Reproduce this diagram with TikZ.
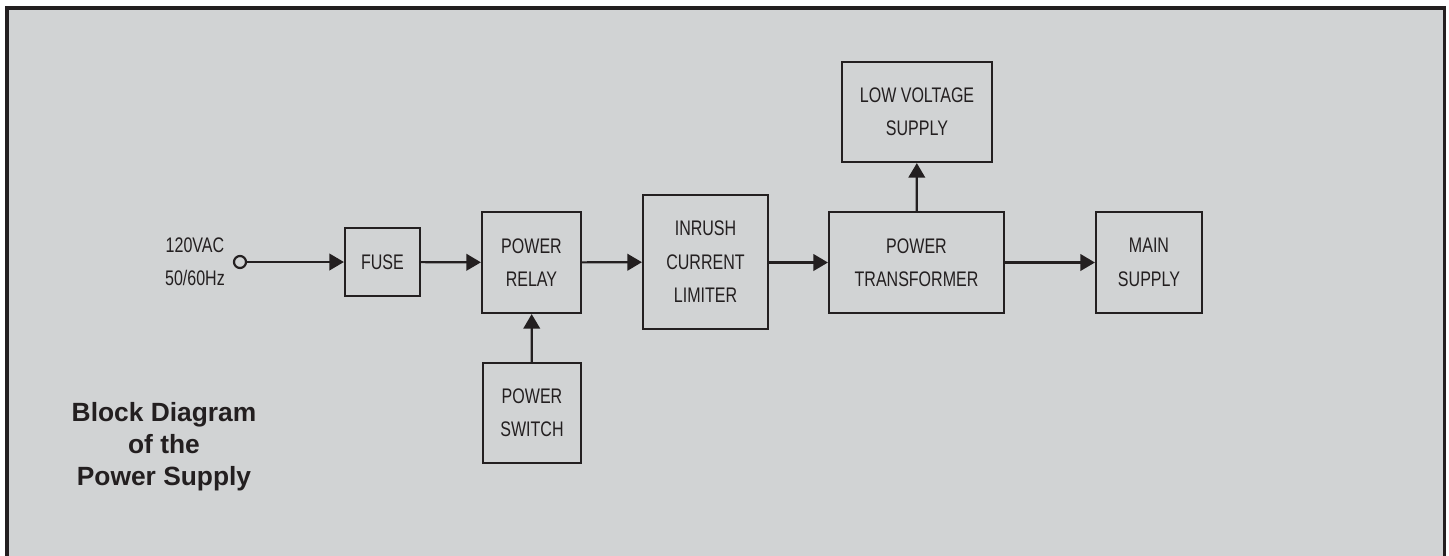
\documentclass[tikz,border=0pt]{standalone}
\usepackage{fontspec}
\setmainfont{Liberation Sans}
\newfontfamily\blockfont{Liberation Sans}[FakeStretch=0.76]
\usepackage{tikz}
\usetikzlibrary{arrows.meta,positioning}
\definecolor{panelgray}{RGB}{209,211,212}
\definecolor{inkdark}{RGB}{35,31,32}

\begin{document}
\begin{tikzpicture}[x=0.02cm, y=-0.02cm,
    box/.style={draw=inkdark, line width=1.25pt, align=center, inner sep=0pt,
      font=\blockfont\fontsize{12}{19}\selectfont, text=inkdark},
    flow/.style={draw=inkdark, line width=1.25pt, -{Triangle[length=2.9mm,width=3.3mm]}}]
        \useasboundingbox (0,0) rectangle (1449,555);
        \fill[white] (0,0) rectangle (1449,555);
        \draw[inkdark, line width=2pt, fill=panelgray] (7,8) rectangle (1444.5,575);
        % blocks
        \node[box, minimum width=1.5cm, minimum height=1.36cm] (fuse) at (382.5,262) {FUSE};
        \node[box, minimum width=1.98cm, minimum height=2.02cm] (relay) at (531.5,262.5) {POWER\\RELAY};
        \node[box, minimum width=1.96cm, minimum height=2cm] (switch) at (532,413) {POWER\\SWITCH};
        \node[box, minimum width=2.5cm, minimum height=2.68cm] (inrush) at (705.5,262) {INRUSH\\CURRENT\\LIMITER};
        \node[box, minimum width=3.5cm, minimum height=2.02cm] (xfmr) at (916.5,262.5) {POWER\\TRANSFORMER};
        \node[box, minimum width=3cm, minimum height=2cm] (lowv) at (917,112) {LOW VOLTAGE\\SUPPLY};
        \node[box, minimum width=2.12cm, minimum height=2.02cm] (mains) at (1149,262.5) {MAIN\\SUPPLY};
        % input terminal
        \node[circle, draw=inkdark, line width=1.25pt, minimum size=0.24cm, inner sep=0pt] (ac) at (240,262) {};
        \node[box, draw=none, left=0.14cm of ac] (acin) {120VAC\\50/60Hz};
        % connections
        \draw[flow] (ac) -- (fuse);
        \draw[flow] (fuse) -- (relay);
        \draw[flow] (relay) -- (inrush);
        \draw[flow] (inrush.east |- xfmr) -- (xfmr);
        \draw[flow] (xfmr) -- (mains);
        \draw[flow] (switch) -- (relay);
        \draw[flow] (xfmr) -- (lowv);
        % caption
        \node[align=center, text=inkdark, font=\bfseries\fontsize{15}{18.2}\selectfont] (title) at (164,447) {Block Diagram\\of the\\Power Supply};
      \end{tikzpicture}
\end{document}
